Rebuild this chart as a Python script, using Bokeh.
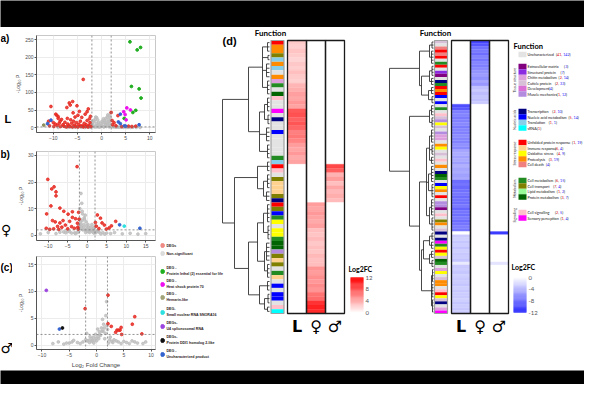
import math
from bokeh.plotting import figure
from bokeh.layouts import column, row
from bokeh.models import Range1d, Span, FixedTicker
from bokeh.embed import file_html
from bokeh.resources import INLINE
from bokeh.core.properties import value

# ---------------- volcano data ----------------
# panel a (L)
a_ns_x = [-1.8,-1.5,-1.2,-1.0,-0.8,-0.5,-0.3,0.0,0.3,0.6, 0.9,1.2,1.5,1.7,1.9,1.4,1.0,0.5,-0.7,-1.6,
          -2.5,-3.5,-5.0,-7.0,3.0,4.5,6.0,8.0,-9.0,1.8, 1.6,-1.9,-1.3,0.8,-0.2,1.1,-2.2,-2.8,-4.2,-6.1,
          2.4,3.6,5.2,-0.9,0.2,1.3,-1.4,0.7,
          -7.5,-6.5,-5.5,-4.5,-3.8,-3.2,-2.6,-2.0,-1.1,-0.4, 0.4,1.6,2.1,2.7,3.3,4.0,4.8,5.5,6.5,7.2,
          -1.7,-1.0,-0.6,0.1,0.9,1.5,1.8,-1.2,0.4,1.3]
a_ns_y = [10,18,5,12,22,8,3,6,14,20, 26,30,22,12,42,6,3,2,2,3, 1,0.5,0.8,0.5,1,0.7,0.4,0.5,0.3,28,
          34,14,24,10,12,16,2,1.5,1,0.6, 2,1.2,0.8,6,4,9,2,16,
          1.5,2,1,2.5,3,2,3,4,2,1.5, 2.5,2,3,2,1.5,1,2,0.6,1,0.5,
          20,28,15,18,8,16,20,30,25,36]
a_deg_x = [-10.5,-9.5,-9.3,-9.0,-7.2,-6.7,-6.5,-6.0,-5.1,-3.8, -2.75,-4.9,-5.5,-4.1,-3.4,-8.3,-7.1,-6.4,-5.8,-11.0,
           -10.0,-9.6,-8.8,-8.0,-7.6,-7.0,-6.8,-6.2,-5.6,-5.2, -4.7,-4.4,-4.0,-3.6,-3.2,-3.0,-2.6,-2.4,-2.2,-10.8,
           -9.9,-9.2,-8.5,-7.8,-7.3,-6.6,-6.0,-5.4,-4.9,-4.3, -3.8,-3.3,-2.8,-2.5,-3.0,-2.3,-8.6,-9.0,-4.6,-5.9,
           2.0,3.4,2.6,2.3,7.1,5.6,3.0,2.2,4.2,6.3]
a_deg_y = [60,38,35,31,57,70,64,74,62,137, 53,35,30,29,38,23,26,22,18,18, 14,10,12,8,15,10,5,12,7,14,
           9,18,5,12,8,20,6,14,3,5, 3,6,3,4,2,3,2,3,2,4, 2,3,2,25,45,32,18,26,46,42, 43,34,14,8,4,4,5,20,3,3]
a_lethal_x = [5.9, 7.4, 8.1, 6.2, 7.8, 8.2, 7.1, 6.5, 4.7]
a_lethal_y = [244, 221, 228, 117, 110, 84, 49, 43, 26]
a_hsp_x = [5.25, 6.0, 4.6, 4.9, 5.1]
a_hsp_y = [56, 50, 45, 37, 22]
a_unch_x = [3.9, 3.5, 3.9, 4.75, 5.0, 7.8, -10.5, -11.2]
a_unch_y = [38, 16, 11, 5, 4, 8, 21, 11]
a_hem_x = [-12.0]
a_hem_y = [7]

# panel b (female)
b_ns_x = [-1.6,-1.8,-1.5,-1.2,-0.9,-0.6,-0.3,0.0,0.4,0.8, 1.2,1.6,1.9,-1.9,-1.4,-2.5,-4.0,-6.0,-8.0,-10.0,
          -12.0,3.0,5.0,7.0,9.0,11.0,13.0,15.0,-1.7,-1.1, 0.6,1.4,-0.8,-0.2,0.2,1.0,-1.3,-2.0,2.5,4.0,
          -3.2,-5.0,6.0,-7.0,1.7,-0.5,
          -1.9,-1.6,-1.3,-1.0,-0.7,-0.4,-0.1,0.2,0.5,0.9, 1.3,1.7,-2.2,-3.0,2.2,2.8,3.5,-4.5,4.5,-5.5]
b_ns_y = [15.7,6,3,8,4,2,5,1.5,3,2, 4,2.5,1.5,10,12,1,0.8,1.2,0.6,1.0, 0.5,1.2,0.8,1.0,0.5,0.7,0.4,0.6,5,2,
          1,1.2,6.5,3.5,2.2,1.8,9,4,1.5,1.0, 0.9,1.4,0.6,1.1,3,7.5,
          2.5,4,5.5,3,6,1,2.5,4,1.5,3, 2,0.8,1.5,0.6,0.9,1.4,0.5,1.3,0.4,0.9]
b_deg_x = [-2.6,-10.1,-9.1,-8.5,-8.0,-8.0,-9.3,-10.4,-7.0,-6.0, -4.9,-3.8,-3.0,-2.2,-3.8,-8.9,-8.2,-7.0,-10.5,-5.6,
           -4.5,-2.5,-6.5,-7.6,-9.6,-5.0,-4.0,-3.3,-2.4,-6.2, -2.1,-2.3,-8.6,-7.3,2.6,3.4,3.8,4.4,7.3,5.6,
           2.3,3.0,4.9,6.2,2.1]
b_deg_y = [25.8,21,17.4,18.2,16.3,14.8,11,8,10.2,9, 7.9,8.8,6.2,8.6,6.7,5.5,5,4.6,2.6,3.8,
           5.2,4.5,3.0,3.3,2.2,2.4,3.2,2.6,3.0,5.5, 6.0,2.3,2.4,2.2,7.6,6.4,4.6,3.8,5.2,2.7, 3.4,2.5,2.3,3.5,4.8]
b_unch_x = [8.3, 13.5]
b_unch_y = [3.9, 2.6]
b_snora_x = [9.5]
b_snora_y = [3.4]

# panel c (male)
c_ns_x = [1.85,1.1,1.3,0.9,0.5,0.2,-0.2,-0.6,-1.0,-1.5, -2.5,-3.5,-5.0,-7.0,-8.0,1.6,2.5,3.2,4.0,5.5,
          6.5,7.5,8.5,1.7,1.5,0.0,-1.8,-4.2,-6.0,9.0, -0.5,2.2,1.9,0.7,-0.8,1.2,-1.2,3.0,-2.0,0.4,
          1.4,1.0,0.6,0.3,-0.1,-0.4,-0.9,-1.3,-1.7,2.0, 2.4,2.8,3.6,4.5,5.0,6.0,7.0,-3.0,-4.5,-5.5]
c_ns_y = [8.1,4.8,3.9,3.2,2.5,3.0,2.0,1.5,1.2,0.9, 0.6,0.5,0.4,0.6,0.3,2.2,1.5,1.0,0.6,0.5,
          0.8,0.4,0.3,5.5,1.2,0.8,2.2,0.9,0.2,0.6, 0.4,0.4,3.6,1.8,0.9,2.6,1.6,0.5,1.0,1.2,
          3.2,2.6,2.0,1.6,1.3,0.9,0.7,0.5,0.8,2.9, 1.0,0.7,0.8,0.3,0.7,0.3,0.6,0.3,0.6,0.4]
c_deg_x = [-2.1, 2.1, 2.1, 2.7, 7.0, 6.55, 4.5, 4.05, 3.75, 3.5, 4.3, 4.6, 8.3]
c_deg_y = [6.8, 9.3, 4.0, 3.5, 5.3, 3.9, 3.3, 2.8, 2.8, 2.4, 2.8, 2.0, 2.1]
c_u4_x = [-9.2]
c_u4_y = [10.2]
c_unch_x = [-6.8]
c_unch_y = [3.0]
c_ddi_x = [-6.25]
c_ddi_y = [3.2]

a_xticks = [-10, -5, 0, 5, 10]
a_yticks = [0, 50, 100, 150, 200, 250]
b_xticks = [-10, -5, 0, 5, 10, 15]
b_yticks = [0, 10, 20, 30]
c_xticks = [-10, -5, 0, 5, 10]
c_yticks = [0, 5, 10, 15]
fc_cut = [-2, 2]
p_cut = 2

panel_tags = ["a)", "b)", "(c)"]
panel_groups = ["L", "\u2640", "\u2642"]

leg_labels = [["DEGs"], ["Non-significant"], ["DEG -", "Protein lethal (2) essential for life"],
              ["DEG -", "Heat shock protein 70"], ["DEG -", "Hemarin-like"],
              ["DEG-", "Small nuclear RNA SNORA16"], ["DEGs-", "U4 spliceosomal RNA"],
              ["DEGs-", "Protein DDI1 homolog 2-like"], ["DEG -", "Uncharacterized product"]]

C_DEG = "#e62a22"; C_NS = "#bdbdbd"; C_LETH = "#1fae1f"; C_HSP = "#ee10ee"; C_HEM = "#8f8f5c"
C_SNO = "#2fe0e0"; C_U4 = "#9d45e0"; C_DDI = "#111111"; C_UNC = "#3563cf"
leg_colors = ["#f08a84", "#dcdcdc", C_LETH, C_HSP, "#a3a37a", C_SNO, C_U4, C_DDI, C_UNC]

# ---------------- function categories ----------------
func_names = ["Uncharacterized", "Extracellular matrix", "Structural protein", "Chitin metabolism",
              "Cuticle protein", "Development", "Muscle mechanics", "Transcription",
              "Nucleic acid metabolism", "Translation", "sRNA", "Unfolded protein response",
              "Immune response", "Oxidative stress", "Proteolysis", "Cell death", "Cell metabolism",
              "Cell transport", "Lipid metabolism", "Protein metabolism", "Cell signalling",
              "Sensory perception"]
func_colors = ["#e3e3e3", "#800080", "#8a2be2", "#dda0dd", "#d8bfd8", "#da70d6", "#b38bdf",
               "#000080", "#0000ff", "#87ceeb", "#00ffff", "#ff0000", "#ffd28f", "#ffff00",
               "#ff8c00", "#f08080", "#228b22", "#808000", "#98fb98", "#006400", "#ffc0cb", "#ff00ff"]
func_up = [41, None, None, 2, 2, None, 1, 2, 5, 1, 1, 1, 6, 4, 3, None, 6, 7, 1, 3, 2, 1]
func_down = [142, 3, 7, 14, 33, 4, 12, 10, 14, 1, None, 19, 4, 9, 19, 4, 15, 4, 2, 7, 5, 4]
func_groups = ["Tissue structure", "Nucleic acids", "Stress response", "Metabolism", "Signalling"]
func_group_members = [[1, 2, 3, 4, 5, 6], [7, 8, 9, 10], [11, 12, 13, 14, 15], [16, 17, 18, 19], [20, 21]]

# ---------------- heatmap data (up-regulated, red) ----------------
up_func = [11, 14, 14, 17, 9, 14, 9, 0, 14, 3,
           16, 0, 19, 20, 0, 0, 21, 0, 7, 0,
           0, 8, 0, 0, 0, 0, 0, 16, 9, 11,
           20, 0, 17, 12, 12, 12, 17, 7, 11, 17,
           8, 16, 13, 0, 13, 13, 16, 19, 19, 6,
           17, 12, 17, 0, 16, 12, 0, 8, 0, 8,
           8, 0, 20, 10]
up_L = [2.5, 2.2, 2.8, 2.4, 2.0, 2.6, 2.3, 3.0, 2.5, 2.2,
        3.5, 3.8, 4.5, 4.2, 4.8, 4.4, 7.8, 8.2, 7.4, 8.0,
        7.2, 6.0, 6.4, 5.8, 4.6, 4.2, 4.8, 4.0, 4.4, 0,
        0, 0, 0, 0, 0, 0, 0, 0, 0, 0,
        0, 0, 0, 0, 0, 0, 0, 0, 0, 0,
        0, 0, 0, 0, 0, 0, 0, 0, 0, 0,
        0, 0, 0, 0]
up_F = [0, 0, 0, 0, 0, 0, 0, 0, 0, 0,
        0, 0, 0, 0, 0, 0, 0, 0, 0, 0,
        0, 0, 0, 0, 0, 0, 0, 0, 0, 0,
        0, 0, 0, 0, 0, 0, 0, 0, 4.6, 4.2,
        4.8, 4.4, 4.0, 4.5, 3.0, 2.8, 3.2, 2.6, 3.0, 2.7,
        3.3, 2.9, 3.1, 5.0, 4.6, 5.2, 4.8, 5.4, 5.0, 6.6,
        7.0, 9.6, 10.4, 10.0]
up_M = [0, 0, 0, 0, 0, 0, 0, 0, 0, 0,
        0, 0, 0, 0, 0, 0, 0, 0, 0, 0,
        0, 0, 0, 0, 0, 0, 0, 0, 0, 8.6,
        7.6, 3.6, 4.6, 3.0, 4.2, 3.4, 3.8, 3.2, 0, 0,
        0, 0, 0, 0, 0, 0, 0, 0, 0, 0,
        0, 0, 0, 0, 0, 0, 0, 0, 0, 0,
        0, 0, 0, 0]
# dendrogram: tuple = (n leaves, merge height); list = [height, children...]
up_tree = [47,
           [21, [7, (3, 2), (2, 1.5), (4, 3), (4, 2)],
                [10, [5, (4, 2), (3, 1.5)], (4, 3), (4, 2)]],
           [35, [12, (3, 2), [6, (4, 2), (3, 3)]],
                [21, [12, [6, (5, 2), (4, 1.5)], [5, (5, 3), (4, 2)]],
                     [10, (3, 2), [5, (3, 1.5), (2, 2)]]]]]

# ---------------- heatmap data (down-regulated, blue) ----------------
dn_func = [4, 0, 15, 11, 15, 11, 0, 16, 11, 0,
           2, 1, 0, 7, 16, 11, 14, 11, 8, 0,
           8, 0, 16, 0, 20, 4, 6, 13, 4, 0,
           6, 3, 3, 0, 14, 13, 0, 4, 0, 20,
           0, 14, 0, 7, 19, 16, 0, 8, 13, 14,
           0, 11, 0, 6, 6, 1, 0, 20, 0, 17,
           14, 0, 4, 7, 0, 7, 21, 16, 13, 11,
           13, 4, 19, 16, 0, 3, 13, 0, 4, 14,
           14, 0, 20, 11, 13, 4, 7, 0, 3, 21]
dn_L = [0, 0, 0, 0, 0, 0, 0, 0, 0, 0,
        0, 0, 0, 0, 0, 0, 0, 0, 0, 0,
        0, -10.0, -9.4, -7.2, -6.8, -7.5, -7.0, -6.6, -7.3, -6.9,
        -7.1, -6.4, -6.8, -7.0, -6.2, -6.6, -5.0, -4.6, -5.2, -4.8,
        -5.4, -4.4, -5.0, -4.7, -5.3, -4.9, -8.2, -7.8, -8.4, -8.0,
        -7.6, -8.3, -7.9, -8.1, -7.5, -8.6, -7.7, -8.0, -7.4, -8.2,
        -7.8, -7.2, -7.6, 0.0, -3.0, -2.6, -3.2, -2.8, -3.4, -2.7,
        -3.1, -2.9, -3.3, -1.2, -3.0, -2.8, -3.2, -2.6, -3.0, -2.9,
        -3.3, -2.7, -3.1, -2.8, -3.0, -2.6, -3.2, -2.9, -3.1, -2.8]
dn_F = [-10.5, -9.5, -8.0, -7.5, -8.2, -7.0, -7.8, -6.8, -7.2, -6.5,
        -6.0, -5.5, -6.2, -5.0, -5.8, -3.5, -3.0, -3.8, -3.2, -3.6,
        -3.0, 0, 0, 0, 0, 0, 0, 0, 0, 0,
        0, 0, 0, 0, 0, 0, 0, 0, 0, 0,
        0, 0, 0, 0, 0, 0, 0, 0, 0, 0,
        0, 0, 0, 0, 0, 0, 0, 0, 0, 0,
        0, 0, 0, 0, 0, 0, 0, 0, 0, 0,
        0, 0, 0, 0, 0, 0, 0, 0, 0, 0,
        0, 0, 0, 0, 0, 0, 0, 0, 0, 0]
dn_M = [0, 0, 0, 0, 0, 0, 0, 0, 0, 0,
        0, 0, 0, 0, 0, 0, 0, 0, 0, 0,
        0, 0, 0, 0, 0, 0, 0, 0, 0, 0,
        0, 0, 0, 0, 0, 0, 0, 0, 0, 0,
        0, 0, 0, 0, 0, 0, 0, 0, 0, 0,
        0, 0, 0, 0, 0, 0, 0, 0, 0, 0,
        0, 0, 0, -11.0, 0, 0, 0, 0, 0, 0,
        0, 0, 0, -1.5, 0, 0, 0, 0, 0, 0,
        0, 0, 0, 0, 0, 0, 0, 0, 0, 0]
dn_tree = [44,
           [14, [4, (3, 1.5), (5, 2)],
                [12, [4, (4, 1.5), (3, 2)], [5, (3, 2), (3, 1.5)]]],
           [24, [4, (4, 2), (4, 1.5)],
                [14, [7, [4, (5, 2), (4, 1.5), (3, 2)], [5, (6, 2), (5, 1.5)], [4, (6, 2), (5, 1.5)]],
                     [12, [10, [4, (3, 1.5), (3, 2)], [4, (3, 2), (3, 1.5)]],
                          [2, (5, 1), (5, 1.5), (5, 1)]]]]]

col_labels = ["L", "\u2640", "\u2642"]
up_ticks = [12, 8, 4, 0]
dn_ticks = [0, -4, -8, -12]
FC_MAX = 12

# ---------------- helpers ----------------
def mix(c1, c2, t):
    t = max(0.0, min(1.0, t))
    a = [int(c1[i:i + 2], 16) for i in (1, 3, 5)]
    b = [int(c2[i:i + 2], 16) for i in (1, 3, 5)]
    return "#%02x%02x%02x" % tuple(round(a[k] + (b[k] - a[k]) * t) for k in range(3))

RED = "#ff0000"
BLUE = "#2a2aff"

def volcano(h, top, xr, yr, xt, yt, layers, xlabel=None):
    p = figure(width=148, height=h, x_range=Range1d(*xr), y_range=Range1d(*yr),
               output_backend="svg", toolbar_location=None,
               min_border_left=16, min_border_right=5, min_border_top=top, min_border_bottom=2)
    p.xaxis.ticker = FixedTicker(ticks=xt)
    p.yaxis.ticker = FixedTicker(ticks=yt)
    p.axis.major_label_text_font_size = "5px"
    p.axis.major_label_text_color = "#4d4d4d"
    p.axis.major_label_standoff = 1
    p.axis.major_tick_out = 2
    p.axis.major_tick_in = 0
    p.axis.minor_tick_out = 0
    p.axis.minor_tick_in = 0
    p.axis.axis_line_color = "#555555"
    p.axis.major_tick_line_color = "#555555"
    p.yaxis.axis_label = "-Log\u2081\u2080 P"
    p.yaxis.axis_label_text_font_size = "5px"
    p.yaxis.axis_label_text_font_style = "normal"
    p.yaxis.axis_label_standoff = 1
    if xlabel:
        p.xaxis.axis_label = xlabel
        p.xaxis.axis_label_text_font_size = "6px"
        p.xaxis.axis_label_text_font_style = "normal"
        p.xaxis.axis_label_standoff = 2
    p.grid.grid_line_color = "#ececec"
    p.outline_line_color = "#c8c8c8"
    for xs, ys, col, al in layers:
        p.scatter(xs, ys, size=2.8, fill_color=col, line_color=col, fill_alpha=al, line_alpha=al)
    for xv in fc_cut:
        p.add_layout(Span(location=xv, dimension="height", line_color="#777777",
                          line_dash="2 2", line_width=0.8))
    p.add_layout(Span(location=p_cut, dimension="width", line_color="#777777",
                      line_dash="2 2", line_width=0.8))
    return p

pa = volcano(115, 8, (-13.5, 11.2), (-14, 262), a_xticks, a_yticks,
             [(a_ns_x, a_ns_y, C_NS, 0.8), (a_deg_x, a_deg_y, C_DEG, 0.85),
              (a_lethal_x, a_lethal_y, C_LETH, 1), (a_hsp_x, a_hsp_y, C_HSP, 1),
              (a_unch_x, a_unch_y, C_UNC, 1), (a_hem_x, a_hem_y, C_HEM, 1)])
pb = volcano(108, 9, (-13, 17.5), (-2, 31.5), b_xticks, b_yticks,
             [(b_ns_x, b_ns_y, C_NS, 0.8), (b_deg_x, b_deg_y, C_DEG, 0.85),
              (b_unch_x, b_unch_y, C_UNC, 1), (b_snora_x, b_snora_y, C_SNO, 1)])
pc = volcano(120, 6, (-11, 10.8), (-0.8, 16.5), c_xticks, c_yticks,
             [(c_ns_x, c_ns_y, C_NS, 0.8), (c_deg_x, c_deg_y, C_DEG, 0.85),
              (c_u4_x, c_u4_y, C_U4, 1), (c_unch_x, c_unch_y, C_UNC, 1), (c_ddi_x, c_ddi_y, C_DDI, 1)],
             xlabel="Log\u2082 Fold Change")

# strip with panel tags (left of the volcano plots)
ps = figure(width=12, height=343, x_range=Range1d(0, 12), y_range=Range1d(370, 27),
            output_backend="svg", toolbar_location=None, min_border=0,
            x_axis_location=None, y_axis_location=None, outline_line_color=None)
ps.grid.grid_line_color = None
ps.text(x=[0, 0, 0], y=[38, 154, 267], text=panel_tags, text_font=value("Liberation Sans"),
        text_font_style="bold", text_font_size="10px", text_baseline="middle")
ps.text(x=[4], y=[118], text=[panel_groups[0]], text_font=value("Liberation Sans"),
        text_font_style="bold", text_font_size="11px", text_baseline="middle")
ps.text(x=[0.5, 0], y=[229, 347], text=panel_groups[1:], text_font=value("DejaVu Sans"),
        text_font_style="bold", text_font_size="14px", text_baseline="middle")

# ---------------- heatmap panel ----------------
pd = figure(width=424, height=343, x_range=Range1d(160, 584), y_range=Range1d(370, 27),
            output_backend="svg", toolbar_location=None, min_border=0,
            x_axis_location=None, y_axis_location=None, outline_line_color=None)
pd.grid.grid_line_color = None

def dendro(node, start, segs, ypos):
    if isinstance(node, tuple):
        n, h = node
        ys = [ypos(start + k) for k in range(n)]
        for y in ys:
            segs.append((0, y, h, y))
        segs.append((h, ys[0], h, ys[-1]))
        return (ys[0] + ys[-1]) / 2, h, start + n
    h = node[0]
    r = start
    cs = []
    for ch in node[1:]:
        yc, hc, r = dendro(ch, r, segs, ypos)
        segs.append((hc, yc, h, yc))
        cs.append(yc)
    segs.append((h, cs[0], h, cs[-1]))
    return (cs[0] + cs[-1]) / 2, h, r

def heatmap(funcs, cols, tree, y0, y1, leaf_x, bar_x, col_x, col_w, high, title_x):
    n = len(funcs)
    rh = (y1 - y0) / n
    ypos = lambda i: y0 + (i + 0.5) * rh
    segs = []
    dendro(tree, 0, segs, ypos)
    pd.segment(x0=[leaf_x - s[0] for s in segs], y0=[s[1] for s in segs],
               x1=[leaf_x - s[2] for s in segs], y1=[s[3] for s in segs],
               line_color="#333333", line_width=0.9)
    pd.quad(left=[bar_x] * n, right=[bar_x + 13] * n,
            top=[y0 + i * rh for i in range(n)], bottom=[y0 + (i + 1) * rh for i in range(n)],
            fill_color=[func_colors[f] for f in funcs], line_color=None)
    pd.quad(left=[bar_x], right=[bar_x + 13], top=[y0], bottom=[y1], fill_color=None,
            line_color="#a0a0a0", line_width=1.2)
    pd.text(x=[title_x], y=[y0 - 8], text=["Function"], text_font=value("Lato"),
            text_font_style="bold", text_font_size="8px", text_align="center", text_baseline="middle")
    L, R, T, B, C = [], [], [], [], []
    for j, vals in enumerate(cols):
        for i, v in enumerate(vals):
            L.append(col_x + j * col_w); R.append(col_x + (j + 1) * col_w)
            T.append(y0 + i * rh); B.append(y0 + (i + 1) * rh)
            C.append(mix("#ffffff", high, abs(v) / FC_MAX))
    pd.quad(left=L, right=R, top=T, bottom=B, fill_color=C, line_color=C, line_width=0.3)
    pd.quad(left=[col_x + j * col_w for j in range(3)], right=[col_x + (j + 1) * col_w for j in range(3)],
            top=[y0] * 3, bottom=[y1] * 3, fill_color=None, line_color="#1a1a1a", line_width=1.3)
    pd.text(x=[col_x + (j + 0.5) * col_w for j in range(3)], y=[y1 + 13] * 3, text=col_labels,
            text_font=value("DejaVu Sans"), text_font_style="bold", text_font_size="16px",
            text_align="center", text_baseline="middle")

heatmap(up_func, [up_L, up_F, up_M], up_tree, 40, 313, 269, 270.5, 287, 19, RED, 270)
heatmap(dn_func, [dn_L, dn_F, dn_M], dn_tree, 40, 313, 433, 434, 451, 19, BLUE, 435)

pd.text(x=[222], y=[40], text=["(d)"], text_font=value("Liberation Sans"), text_font_style="bold",
        text_font_size="11px", text_baseline="middle")

def key(x, ytop, ybot, ticks, high, title_y):
    steps = 40
    hgt = (ybot - ytop) / steps
    tmax = max(abs(t) for t in ticks)
    top_is_high = abs(ticks[0]) == tmax
    tops, bots, cols = [], [], []
    for k in range(steps):
        frac = (k + 0.5) / steps
        yv = ybot - frac * (ybot - ytop) if top_is_high else ytop + frac * (ybot - ytop)
        tops.append(yv - hgt / 2 - 0.2); bots.append(yv + hgt / 2 + 0.2)
        cols.append(mix("#ffffff", high, frac))
    pd.quad(left=[x] * steps, right=[x + 13] * steps, top=tops, bottom=bots, fill_color=cols, line_color=None)
    ty = [ytop + (tmax - abs(t)) / tmax * (ybot - ytop) if top_is_high else ytop + abs(t) / tmax * (ybot - ytop)
          for t in ticks]
    pd.text(x=[x + 15] * len(ticks), y=ty, text=[str(t) for t in ticks], text_font=value("Lato"),
            text_font_size="6px", text_color="#555555", text_baseline="middle")
    pd.text(x=[x - 2], y=[title_y], text=["Log2FC"], text_font=value("Lato"), text_font_style="bold",
            text_font_size="7px", text_baseline="middle")

key(350, 277, 312, up_ticks, RED, 268)
key(513, 277, 312, dn_ticks, BLUE, 266)

# DEG legend of volcano plots
leg_dot_y = [245, 253, 271, 284, 297, 312, 326, 340, 354]
pd.scatter(x=[162] * len(leg_dot_y), y=leg_dot_y, size=4, fill_color=leg_colors, line_color=leg_colors)
tx, ty, tt = [], [], []
for lines, yy in zip(leg_labels, leg_dot_y):
    if len(lines) == 1:
        tx.append(166); ty.append(yy); tt.append(lines[0])
    else:
        tx += [166, 166]; ty += [yy - 3.3, yy + 2.7]; tt += lines
pd.text(x=tx, y=ty, text=tt, text_font=value("Liberation Sans"), text_font_style="bold",
        text_font_size="3.6px", text_color="#2a1a1a", text_baseline="middle")

# function legend
def textw(s, fs):
    w = 0
    for ch in s:
        if ch.isdigit():
            w += 0.56
        elif ch in "(),":
            w += 0.3
        elif ch == " ":
            w += 0.22
        elif ch.isupper():
            w += 0.62
        else:
            w += 0.49
    return w * fs

FS = 3.7
row_h = 5.5
TX = 527
pd.text(x=[513], y=[46], text=["Function"], text_font=value("Lato"), text_font_style="bold",
        text_font_size="7.5px", text_baseline="middle")
item_y = {0: 54}
group_top = [66, 111, 142, 180, 212]
for g, members in enumerate(func_group_members):
    for k, idx in enumerate(members):
        item_y[idx] = group_top[g] + k * row_h
names_x, names_y, names_t = [], [], []
pieces = {"#111111": ([], [], []), "#e00000": ([], [], []), "#1a1aff": ([], [], [])}
for idx, name in enumerate(func_names):
    yy = item_y[idx]
    names_x.append(TX); names_y.append(yy); names_t.append(name)
    xx = TX + textw(name + " ", FS)
    parts = [("(", "#111111")]
    if func_up[idx] is not None:
        parts.append((str(func_up[idx]), "#e00000"))
    if func_up[idx] is not None and func_down[idx] is not None:
        parts.append((", ", "#111111"))
    if func_down[idx] is not None:
        parts.append((str(func_down[idx]), "#1a1aff"))
    parts.append((")", "#111111"))
    for s, c in parts:
        pieces[c][0].append(xx); pieces[c][1].append(yy); pieces[c][2].append(s)
        xx += textw(s, FS)
pd.quad(left=[518] * len(func_names), right=[526] * len(func_names),
        top=[item_y[i] - row_h / 2 for i in range(len(func_names))],
        bottom=[item_y[i] + row_h / 2 for i in range(len(func_names))],
        fill_color=func_colors, line_color=None)
pd.text(x=names_x, y=names_y, text=names_t, text_font=value("Lato"), text_font_size="%.1fpx" % FS,
        text_color="#111111", text_baseline="middle")
for c, (xs, ys, ts) in pieces.items():
    pd.text(x=xs, y=ys, text=ts, text_font=value("Lato"), text_font_size="%.1fpx" % FS,
            text_color=c, text_baseline="middle")
gy = [(item_y[m[0]] + item_y[m[-1]]) / 2 for m in func_group_members]
pd.text(x=[514] * len(func_groups), y=gy, text=func_groups, angle=math.pi / 2,
        text_font=value("Lato"), text_font_size="3.5px", text_color="#333333",
        text_align="center", text_baseline="middle")

# ---------------- black bands & layout ----------------
def band(h):
    b = figure(width=584, height=h, output_backend="svg", toolbar_location=None, min_border=0,
               x_axis_location=None, y_axis_location=None, outline_line_color=None,
               background_fill_color="black", border_fill_color="black",
               x_range=Range1d(0, 1), y_range=Range1d(0, 1))
    b.grid.grid_line_color = None
    return b

layout = column(band(27), row(ps, column(pa, pb, pc), pd), band(14))
open("out.html", "w").write(file_html(layout, INLINE))
